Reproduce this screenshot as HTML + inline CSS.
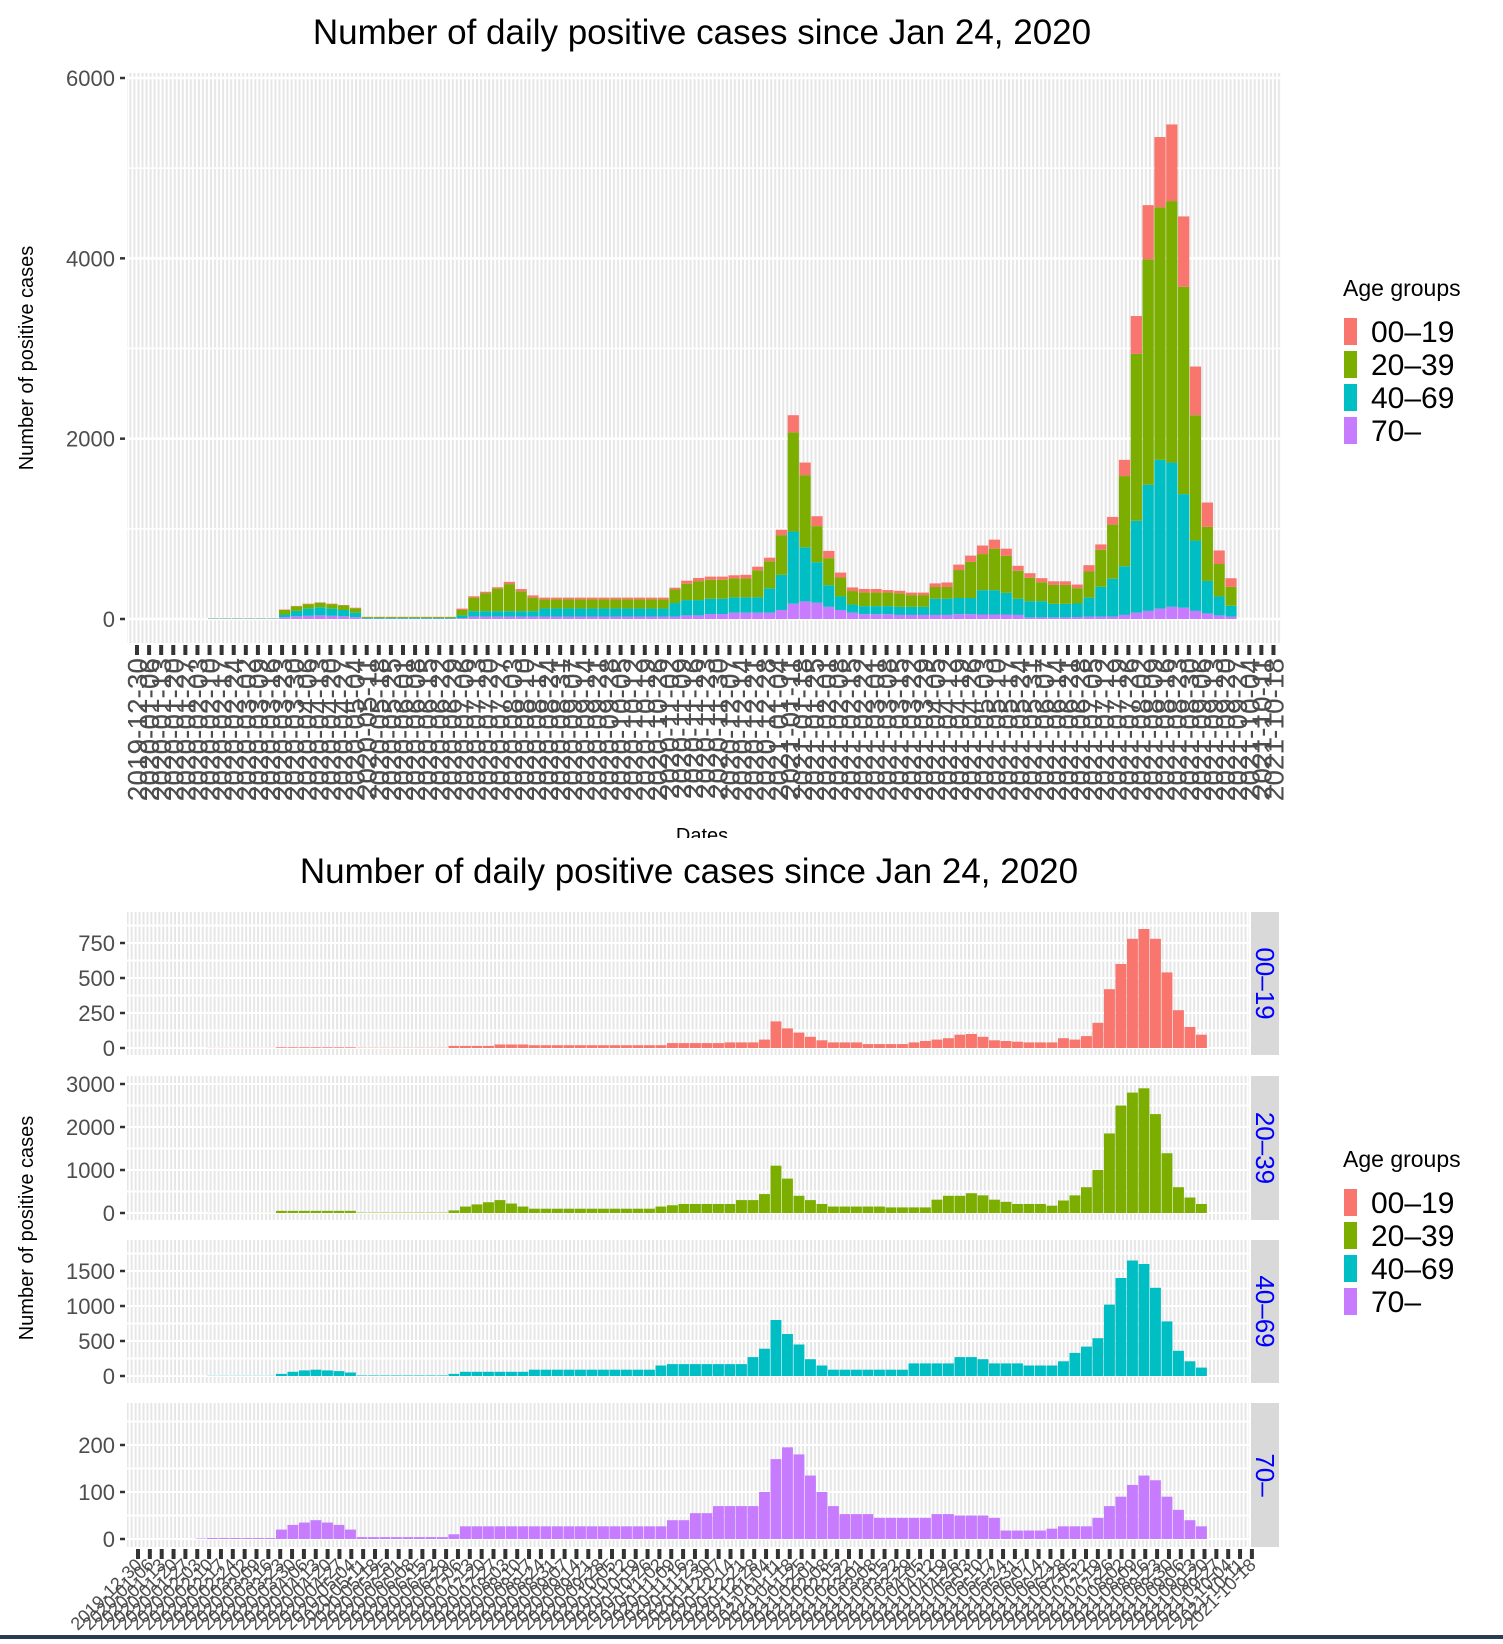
<!DOCTYPE html>
<html><head><meta charset="utf-8">
<style>
body{margin:0;background:#fff;}
svg text{font-family:"Liberation Sans",sans-serif;}
</style></head>
<body>
<svg id="c" width="1503" height="1639" xmlns="http://www.w3.org/2000/svg">
<defs>
<pattern id="stT" x="137" y="0" width="12.09" height="10" patternUnits="userSpaceOnUse">
<rect x="0.5" y="0" width="2" height="10" fill="#e6e6e6"/><rect x="4.5" y="0" width="2" height="10" fill="#e6e6e6"/><rect x="8.5" y="0" width="2" height="10" fill="#e6e6e6"/></pattern>
<pattern id="stB" x="138" y="0" width="11.85" height="10" patternUnits="userSpaceOnUse">
<rect x="0.5" y="0" width="2" height="10" fill="#e6e6e6"/><rect x="4.5" y="0" width="2" height="10" fill="#e6e6e6"/><rect x="8.5" y="0" width="2" height="10" fill="#e6e6e6"/></pattern>
</defs>
<g id="root"></g>
<rect x="0" y="1635" width="1503" height="4" fill="#2b3a55"/>
</svg>
<script>
const groups = ["00\u201319","20\u201339","40\u201369","70\u2013"];
const colors = ["#f8766d","#7cae00","#00bfc4","#c77cff"];
const a00 = [0,0,0,0,0,0, 1,1,1,1,1,1, 5,5,5,5,5,5,5, 2,2,2,2,2,2,2,2, 15,15,15,15, 25,25,25, 20,20,20,20,20,20,20,20,20,20,20,20, 35,35,35,35,35, 40,40,40,
 60,190,140,110,80,55, 40,40,40, 28,28,28,28, 40,50,60,70, 95,100,80, 55,50,45, 40,40,40, 70,60,85, 180,420,600,780,850,780,540,270,150,95];
const a20 = [0,0,0,0,0,0, 2,2,2,2,2,2, 50,50,50,50,50,50,50, 10,10,10,10,10,10,10,10, 60,150,200,250,300,220,150, 100,100,100,100,100,100,100,100,100,100,100, 150,180, 210,210,210,210,210, 300,300,
 440,1100,800,400,300,210, 150,150,150,150,150, 130,130,130,130, 310,400,400,460,410,310,260, 210,210,210, 170,290,410,600,1000,1850,2500,2800,2900,2300,1390,600,360,210];
const a40 = [0,0,0,0,0,0, 3,3,3,3,3,3, 30,60,80,90,80,70,50, 8,8,8,8,8,8,8,8, 30, 60,60,60,60,60,60, 90,90,90,90,90,90,90,90,90,90,90, 150, 170,170,170,170,170,170,170,
 270,390,800,600,450,240,150, 90,90,90,90,90,90,90, 180,180,180,180, 270,270,240, 180,180,180, 150,150,150, 210,330,420,540,1020,1400,1650,1600,1260,780,360,210,120];
const a70 = [0,0,0,0,0,1, 2,2,2,2,2,2, 20,30,35,40,35,30,20, 4,4,4,4,4,4,4,4, 10, 27,27,27,27,27,27,27,27,27,27,27,27,27,27,27,27,27,27, 40,40, 55,55, 70,70,70,70,
 100,170,195,180,135,100,70, 53,53,53, 45,45,45,45,45, 53,53, 50,50,50, 45, 18,18,18,18, 22, 27,27,27, 45,70,90,115,135,125,90,62,40,27];
const series = [a00,a20,a40,a70];
const topTicks = [0,2000,4000,6000];
const facetTicks = [[0,250,500,750],[0,1000,2000,3000],[0,500,1000,1500],[0,100,200]];
const facetMax = [800,3000,1650,270];
const startDate = "2019-12-30";
const nTicks = 95;

const NS="http://www.w3.org/2000/svg";
const root=document.getElementById('root');
function mk(tag,attrs,parent){const e=document.createElementNS(NS,tag);for(const k in attrs)e.setAttribute(k,attrs[k]);(parent||root).appendChild(e);return e;}
function txt(s,attrs,parent){const e=mk('text',attrs,parent);e.textContent=s;return e;}
const dateLabels=[];{const d0=new Date(startDate+"T00:00:00Z");for(let i=0;i<nTicks;i++){const d=new Date(d0.getTime()+i*7*86400000);dateLabels.push(d.toISOString().slice(0,10));}}

// ---------- TOP ----------
const T={x0:127,x1:1281,y0:73,y1:643,zero:619,ppu:(619-78)/6000,wx0:137,ww:11.83,tk:12.09};
const xT=w=>T.wx0+w*T.ww; const yT=v=>T.zero-v*T.ppu; const tT=i=>137+i*T.tk;
txt("Number of daily positive cases since Jan 24, 2020",{x:702,y:44,'font-size':35,'text-anchor':'middle',fill:'#000'});
let g=mk('g',{});
mk('rect',{x:T.x0,y:T.y0,width:T.x1-T.x0,height:T.y1-T.y0,fill:'#fff'},g);
mk('rect',{x:T.x0,y:T.y0,width:T.x1-T.x0,height:T.y1-T.y0,fill:'url(#stT)'},g);
for(let v=-1000;v<=6500;v+=1000){const y=yT(v);if(y<T.y0||y>T.y1)continue;mk('line',{x1:T.x0,x2:T.x1,y1:y,y2:y,stroke:'#fff','stroke-width':v%2000===0?2.5:1.5},g);}
for(const t of topTicks){const y=yT(t);
 mk('line',{x1:T.x0-7,x2:T.x0-2,y1:y,y2:y,stroke:'#333','stroke-width':2.5});
 const tl=txt(String(t),{x:T.x0-12,y:y+8,'font-size':22,'text-anchor':'end',fill:'#4d4d4d'});
 }
const bars=mk('g',{});
for(let w=0;w<a00.length;w++){let cum=0;
 for(let s=3;s>=0;s--){const v=series[s][w];if(!v)continue;
  const r=mk('rect',{x:xT(w),y:yT(cum+v),width:T.ww-0.6,height:v*T.ppu,fill:colors[s]},bars);
  
  cum+=v;}}
for(let i=0;i<nTicks;i++){const x=tT(i);
 mk('rect',{x:x-2,y:645,width:4,height:10,fill:'#333'});
 const t=txt(dateLabels[i],{x:0,y:0,'font-size':28,'text-anchor':'end',fill:'#4d4d4d',transform:`translate(${x+10},658) rotate(-90)`});
 }
txt("Dates",{x:702,y:842,'font-size':20,'text-anchor':'middle',fill:'#000'});
mk('rect',{x:0,y:838,width:1503,height:12,fill:'#fff'});
txt("Number of positive cases",{x:0,y:0,'font-size':20,'text-anchor':'middle',fill:'#000',transform:'translate(33,358) rotate(-90)'});

function legend(y,name){const lg=mk('g',{});
 txt("Age groups",{x:1343,y:y,'font-size':23,fill:'#000'},lg);
 for(let i=0;i<4;i++){const yy=y+22+i*33;
  const r=mk('rect',{x:1344,y:yy,width:13,height:27,fill:colors[i]},lg);
  const t=txt(groups[i],{x:1371,y:yy+24,'font-size':30,fill:'#000'},lg);}}
legend(296,'top-legend');

// ---------- BOTTOM (facets) ----------
txt("Number of daily positive cases since Jan 24, 2020",{x:689,y:883,'font-size':35,'text-anchor':'middle',fill:'#000'});
const P=[{y0:912,y1:1055,zero:1048,top:943,tv:750},{y0:1076,y1:1220,zero:1213,top:1084,tv:3000},{y0:1240,y1:1383,zero:1376,top:1271,tv:1500},{y0:1403,y1:1547,zero:1539,top:1445,tv:200}];
const BX0=127,BX1=1249;const xB=w=>138+w*11.5;const tB=i=>138+i*11.85;
P.forEach((p,k)=>{const ppu=(p.zero-p.top)/p.tv;const yB=v=>p.zero-v*ppu;
 const pg=mk('g',{});
 mk('rect',{x:BX0,y:p.y0,width:BX1-BX0,height:p.y1-p.y0,fill:'#fff'},pg);
 mk('rect',{x:BX0,y:p.y0,width:BX1-BX0,height:p.y1-p.y0,fill:'url(#stB)'},pg);
 const step=facetTicks[k][1]-facetTicks[k][0];
 for(let v=-step/2;v<=facetMax[k]+step;v+=step/2){const y=yB(v);if(y<p.y0||y>p.y1)continue;mk('line',{x1:BX0,x2:BX1,y1:y,y2:y,stroke:'#fff','stroke-width':2},pg);}
 for(const t of facetTicks[k]){const y=yB(t);
  mk('line',{x1:BX0-7,x2:BX0-2,y1:y,y2:y,stroke:'#333','stroke-width':2.5});
  const tl=txt(String(t),{x:BX0-12,y:y+8,'font-size':22,'text-anchor':'end',fill:'#4d4d4d'});}
 const s=series[k];
 for(let w=0;w<s.length;w++){if(!s[w])continue;
  const r=mk('rect',{x:xB(w),y:yB(s[w]),width:10.9,height:s[w]*ppu,fill:colors[k]},pg);
  }
 const st=mk('rect',{x:1251,y:p.y0,width:28,height:p.y1-p.y0,fill:'#d9d9d9'});
 const sl=txt(groups[k],{x:0,y:0,'font-size':26,'text-anchor':'middle',fill:'#0000ff',transform:`translate(1256,${(p.y0+p.y1)/2}) rotate(90)`});
});
for(let i=0;i<nTicks;i++){const x=tB(i);
 mk('rect',{x:x-2,y:1549,width:4,height:10,fill:'#333'});
 const t=txt(dateLabels[i],{x:0,y:0,'font-size':18,'text-anchor':'end',fill:'#4d4d4d',transform:`translate(${x+5},1566) rotate(-45)`});
 }
txt("Number of positive cases",{x:0,y:0,'font-size':20,'text-anchor':'middle',fill:'#000',transform:'translate(33,1228) rotate(-90)'});
legend(1167,'facet-legend');
</script>
</body></html>
